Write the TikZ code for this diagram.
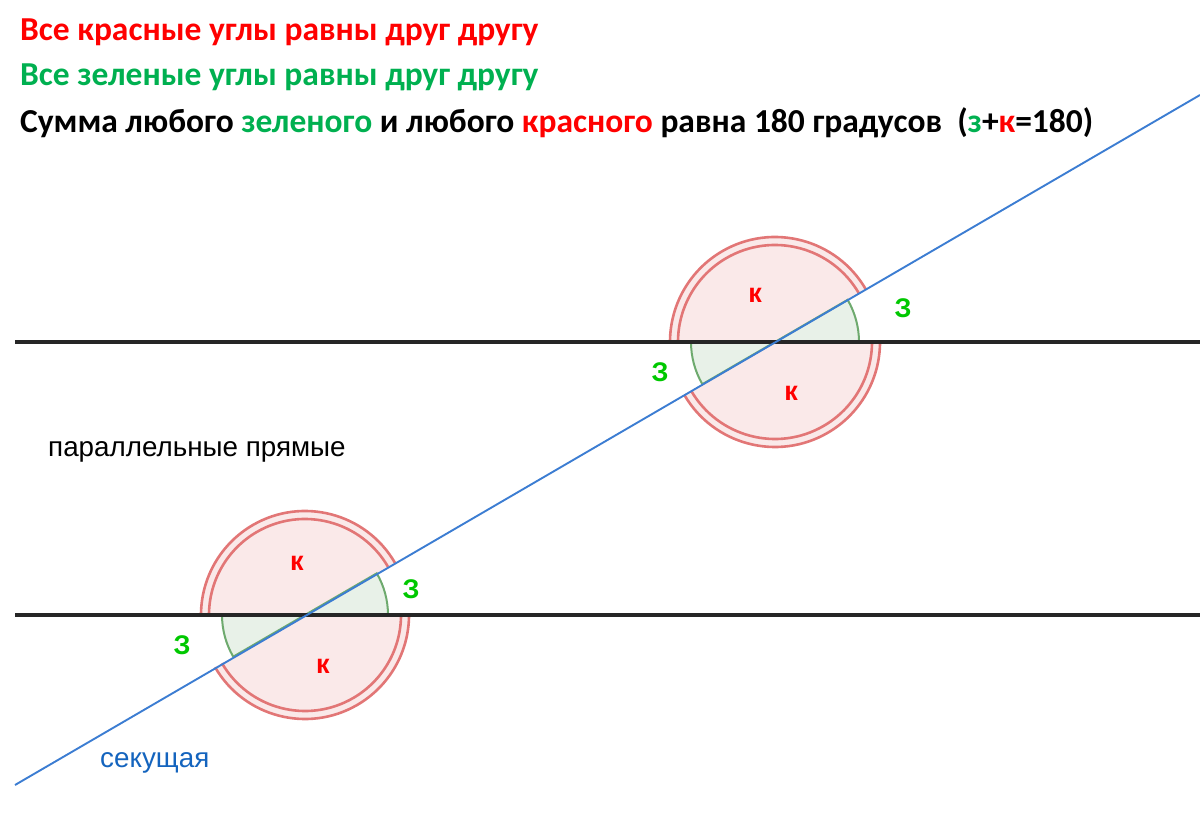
\documentclass[tikz,border=0pt]{standalone}
\usepackage{fontspec}
\setmainfont{Carlito}
\newfontfamily\arialfont{Liberation Sans}
\usetikzlibrary{calc}
\definecolor{titlered}{RGB}{255,0,0}
\definecolor{titlegreen}{RGB}{0,176,80}
\definecolor{markgreen}{RGB}{0,200,0}
\definecolor{secblue}{RGB}{20,100,190}
\definecolor{lineblue}{RGB}{60,125,210}
\definecolor{pinkfill}{RGB}{250,233,233}
\definecolor{redarc}{RGB}{226,118,118}
\definecolor{greenfill}{RGB}{232,241,232}
\definecolor{greenarc}{RGB}{110,170,110}

\begin{document}
\begin{tikzpicture}[x=1pt,y=1pt,
  titletext/.style={anchor=base west,font=\bfseries\fontsize{33.5}{33.5}\selectfont,inner sep=0pt},
  anglemark/.style={font=\arialfont\bfseries\fontsize{27}{27}\selectfont,inner sep=0pt},
  redmark/.style={anglemark,text=titlered},
  greenmark/.style={anglemark,text=markgreen},
  redangle/.style={draw=redarc,line width=2.6pt},
  greenangle/.style={draw=greenarc,line width=2pt},
  parline/.style={draw=black!85,line width=3.2pt},
  secline/.style={draw=lineblue,line width=1.9pt},
  captext/.style={anchor=base west,inner sep=0pt,font=\arialfont\fontsize{27.8}{27.8}\selectfont}]
\useasboundingbox (0,0) rectangle (1200,823);
\def\ang{30.15}
% points where the transversal meets the parallels
\coordinate (L) at (305,208);
\coordinate (U) at (775,481);
\coordinate (Pl1) at (15,208);
\coordinate (Pr1) at (1200,208);
\coordinate (Pl2) at (15,481);
\coordinate (Pr2) at (1200,481);
\coordinate (Sa) at (15,38);
\coordinate (Sb) at (1200,728);
% angle sectors
\foreach \c/\ri/\ro/\rg in {L/96/104/83, U/97/105/84}{
  \fill[pinkfill] (\c) -- ++(\ang:\ro) arc[start angle=\ang,end angle=180,radius=\ro] -- cycle;
  \fill[pinkfill] (\c) -- ++(180+\ang:\ro) arc[start angle=180+\ang,end angle=360,radius=\ro] -- cycle;
  \filldraw[fill=greenfill,greenangle] (\c) -- ++(0:\rg) arc[start angle=0,end angle=\ang,radius=\rg] -- cycle;
  \filldraw[fill=greenfill,greenangle] (\c) -- ++(180:\rg) arc[start angle=180,end angle=180+\ang,radius=\rg] -- cycle;
  \foreach \r in {\ri,\ro}{
    \draw[redangle] (\c) ++(\ang:\r) arc[start angle=\ang,end angle=180,radius=\r];
    \draw[redangle] (\c) ++(180+\ang:\r) arc[start angle=180+\ang,end angle=360,radius=\r];
  }
}
% lines
\draw[parline] (Pl1) -- (Pr1);
\draw[parline] (Pl2) -- (Pr2);
\draw[secline] (Sa) -- (Sb);
% angle labels
\node[redmark] (ku1) at (755,528) {к};
\node[redmark] (ku2) at (791,430) {к};
\node[greenmark] (zu1) at (903,515) {З};
\node[greenmark] (zu2) at (660,451) {З};
\node[redmark] (kl1) at (297,260) {к};
\node[redmark] (kl2) at (323,157) {к};
\node[greenmark] (zl1) at (411,234) {З};
\node[greenmark] (zl2) at (182,178) {З};
% captions
\node[captext] (par) at (48,366) {параллельные прямые};
\node[captext,text=secblue] (sec) at (100,56) {секущая};
% title lines
\node[titletext,text=titlered] (t1) at (20,782) {Все красные углы равны друг другу};
\node[titletext,text=titlegreen] (t2) at (20,737) {Все зеленые углы равны друг другу};
\node[titletext] (t3) at (20,690) {Сумма любого \textcolor{titlegreen}{зеленого} и любого \textcolor{titlered}{красного} равна 180 градусов \ (\textcolor{titlegreen}{з}+\textcolor{titlered}{к}=180)};
\end{tikzpicture}
\end{document}
